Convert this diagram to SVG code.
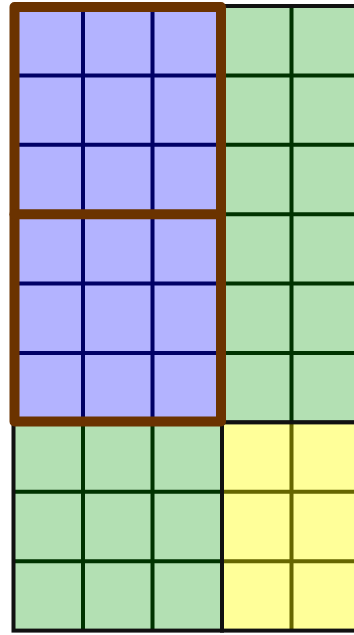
<svg xmlns="http://www.w3.org/2000/svg" width="354" height="635" viewBox="0 0 354 635">
<style>
.thin{stroke-width:4;fill:none}
.navy{stroke:#000066}
.dg{stroke:#003300}
.ol{stroke:#666600}
.border{stroke:#111;stroke-width:4;fill:none}
.brown{stroke:#6b3300;stroke-width:10;fill:none;stroke-linejoin:round;stroke-linecap:round}
</style>
<rect width="354" height="635" fill="#ffffff"/>
<g id="green-right">
<rect x="222" y="6" width="160" height="416.4" fill="#b3e0b3"/>
<path class="thin dg" d="M291.5 6V422.4M222 75.4H382M222 144.8H382M222 214.2H382M222 283.6H382M222 353H382"/>
<rect class="border" x="222" y="6" width="160" height="416.4"/>
</g>
<g id="green-bottom">
<rect x="13.5" y="422.4" width="208.5" height="208.2" fill="#b3e0b3"/>
<path class="thin dg" d="M83 422.4V630.6M152.5 422.4V630.6M13.5 491.8H222M13.5 561.2H222"/>
<rect class="border" x="13.5" y="422.4" width="208.5" height="208.2"/>
</g>
<g id="yellow">
<rect x="222" y="422.4" width="160" height="208.2" fill="#ffff99"/>
<path class="thin ol" d="M291.5 422.4V630.6M222 491.8H382M222 561.2H382"/>
<rect class="border" x="222" y="422.4" width="160" height="208.2"/>
</g>
<g id="purple">
<rect x="13.5" y="6" width="208.5" height="416.4" fill="#b3b3ff"/>
<path class="thin navy" d="M83 6V422.4M152.5 6V422.4M13.5 75.4H222M13.5 144.8H222M13.5 283.6H222M13.5 353H222"/>
<rect class="brown" x="14.5" y="7" width="206.5" height="414.4"/>
<path class="brown" d="M14.5 214.2H221"/>
</g>
</svg>
